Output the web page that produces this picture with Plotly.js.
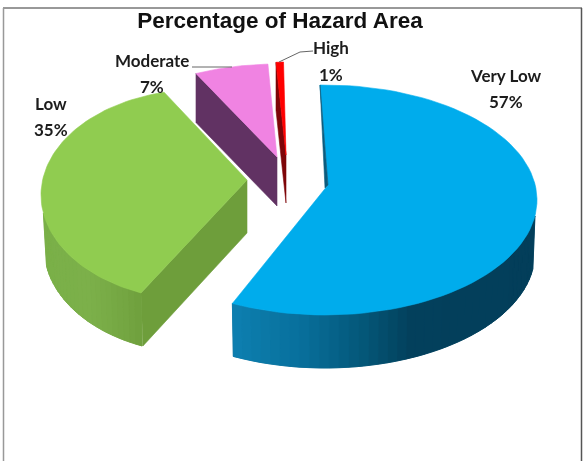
<!DOCTYPE html>
<html>
<head>
<meta charset="utf-8">
<script src="https://cdn.plot.ly/plotly-3.0.1.min.js"></script>
<style>html,body{margin:0;padding:0;background:#fff}#chart{width:585px;height:461px;filter:blur(0.45px)}</style>
</head>
<body>
<div id="chart"></div>
<script>
// ---- data ----
const categories = ['Very Low', 'Low', 'Moderate', 'High'];
const percents = [57, 35, 7, 1];
const chartTitle = 'Percentage of Hazard Area';

// ---- styles ----
const topColors = ['#00ACEC', '#90CC50', '#F083E2', '#FF0000'];
const sideColors = ['#0B5C7E', '#6E9E3B', '#613263', '#7E0508'];
const blueWallStops = [[232, [13, 127, 176]], [300, [8, 112, 156]], [370, [4, 84, 116]], [410, [3, 64, 92]], [540, [3, 62, 90]]];
const greenWallStops = [[40, [122, 176, 72]], [90, [124, 176, 74]], [125, [116, 166, 66]], [145, [110, 158, 60]]];

// ---- exploded 3-D projection of every slice, one entry per category ----
const ellipseX = [325, 200, 277, 286];
const ellipseY = [200, 195, 175, 170];
const radiusX = [212, 159, 200, 130];
const radiusY = [115, 105.5, 111, 108];
const apexX = [328, 247, 277, 286];
const apexY = [185, 180, 157, 155];
const angleShift = [-1.35, -3.4, 4.9, -0.8];
const angleStretch = [1.01, 1.152, 0.845, 0.92];
const depth = [53, 53, 49, 48];
const baseScale = [0.99, 0.98, 1, 1];

const rad = Math.PI / 180;
function rimPoint(i, deg, drop) {
  const s = drop ? baseScale[i] : 1;
  return [ellipseX[i] + radiusX[i] * s * Math.sin(deg * rad),
          ellipseY[i] - radiusY[i] * Math.cos(deg * rad) + (drop || 0)];
}
const total = percents.reduce((a, b) => a + b, 0);
let running = 0;
const startDeg = [], endDeg = [];
percents.forEach((p, i) => {
  startDeg[i] = running / total * 360 + angleShift[i];
  endDeg[i] = startDeg[i] + p / total * 360 * angleStretch[i];
  running += p;
});

function poly(pts, color, w) {
  return {
    type: 'scatter', mode: 'lines', fill: 'toself', fillcolor: color,
    x: pts.map(p => p[0]).concat(pts[0][0]), y: pts.map(p => p[1]).concat(pts[0][1]),
    line: {width: w === undefined ? 0.6 : w, color: color}, hoverinfo: 'skip', showlegend: false
  };
}
function rimArc(i, a, b, drop, n) {
  const out = [];
  for (let k = 0; k <= n; k++) out.push(rimPoint(i, a + (b - a) * k / n, drop));
  return out;
}
function stopColor(stops, x) {
  if (x <= stops[0][0]) return stops[0][1];
  for (let k = 1; k < stops.length; k++) {
    if (x <= stops[k][0]) {
      const t = (x - stops[k - 1][0]) / (stops[k][0] - stops[k - 1][0]);
      return stops[k - 1][1].map((c, j) => c + (stops[k][1][j] - c) * t);
    }
  }
  return stops[stops.length - 1][1];
}
function wallStrips(i, a, b, stops, n) {
  const out = [poly(rimArc(i, a, b, 0, 60).concat(rimArc(i, b, a, depth[i], 60)), sideColors[i], 0.4)];
  for (let k = 0; k < n; k++) {
    const a0 = a + (b - a) * k / n, a1 = a + (b - a) * (k + 1) / n;
    const top = rimArc(i, a0, a1, 0, 3);
    const bottom = rimArc(i, a1, a0, depth[i], 3);
    const c = stopColor(stops, (top[0][0] + top[3][0]) / 2).map(Math.round);
    out.push(poly(top.concat(bottom), 'rgb(' + c.join(',') + ')', 0.9));
  }
  return out;
}
function surface(i) {
  return poly(rimArc(i, startDeg[i], endDeg[i], 0, 80).concat([[apexX[i], apexY[i]]]), topColors[i]);
}
function cutWall(i, rimDeg) {
  const r = rimPoint(i, rimDeg, 0);
  return poly([r, [apexX[i], apexY[i]], [apexX[i], apexY[i] + depth[i]], [r[0] + (baseScale[i] === 1 ? 0 : 2), r[1] + depth[i]]], sideColors[i]);
}

const traces = [];
// Low
traces.push(cutWall(1, startDeg[1]));
traces.push(...wallStrips(1, 260, startDeg[1], greenWallStops, 24));
traces.push(surface(1));
// Moderate
traces.push(cutWall(2, startDeg[2]));
traces.push(surface(2));
// High
traces.push(cutWall(3, startDeg[3]));
traces.push(surface(3));
// Very Low
traces.push(...wallStrips(0, 98, endDeg[0], blueWallStops, 40));
traces.push(surface(0));
const blueStart = rimPoint(0, startDeg[0], 0);
traces.push(poly([blueStart, [apexX[0], apexY[0]], [apexX[0] - 3, apexY[0] + 3]], sideColors[0]));

// leader lines
const leaderModerateX = [192, 232], leaderModerateY = [67, 67];
const leaderHighX = [279, 300, 313], leaderHighY = [62, 52, 51];
[[leaderModerateX, leaderModerateY], [leaderHighX, leaderHighY]].forEach(l => traces.push({
  type: 'scatter', mode: 'lines', x: l[0], y: l[1],
  line: {width: 1, color: '#666'}, hoverinfo: 'skip', showlegend: false
}));

// labels
const labelX = [506, 51, 152, 331];
const nameY = [75, 103, 60, 47];
const pctY = [101, 129, 86, 74];
const labelFont = {family: 'Lato, "Noto Sans", sans-serif', size: 17, color: '#1c1c1c', weight: 700};
const annotations = [];
categories.forEach((c, i) => {
  annotations.push({x: labelX[i], y: nameY[i], text: '<b>' + c + '</b>', showarrow: false, font: labelFont, xanchor: 'center', yanchor: 'middle'});
  annotations.push({x: labelX[i], y: pctY[i], text: '<b>' + percents[i] + '%</b>', showarrow: false, font: labelFont, xanchor: 'center', yanchor: 'middle'});
});

// frame
const frameColor = '#555';
const shapes = [
  {type: 'line', xref: 'x', yref: 'y', x0: 3, x1: 582, y0: 8, y1: 8, line: {color: '#333', width: 1}},
  {type: 'line', xref: 'x', yref: 'y', x0: 3.5, x1: 3.5, y0: 8, y1: 461, line: {color: '#999', width: 1.5}},
  {type: 'line', xref: 'x', yref: 'y', x0: 581.5, x1: 581.5, y0: 8, y1: 461, line: {color: frameColor, width: 1.5}}
];

Plotly.newPlot('chart', traces, {
  width: 585, height: 461,
  margin: {l: 0, r: 0, t: 0, b: 0},
  paper_bgcolor: '#fff', plot_bgcolor: '#fff',
  title: {text: '<b>' + chartTitle + '</b>', x: 280 / 585, xanchor: 'center', y: 1 - 20 / 461, yanchor: 'middle',
          font: {family: '"Liberation Sans", Arial, sans-serif', size: 22.5, color: '#111'}},
  xaxis: {range: [0, 585], visible: false, fixedrange: true},
  yaxis: {range: [461, 0], visible: false, fixedrange: true},
  showlegend: false, annotations: annotations, shapes: shapes
}, {displayModeBar: false, staticPlot: true});
</script>
</body>
</html>
